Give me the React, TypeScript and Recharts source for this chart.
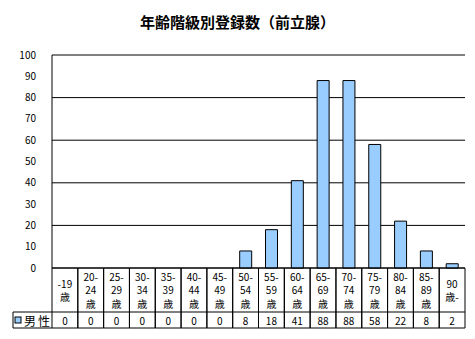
import React from 'react';
import { BarChart, Bar, XAxis, YAxis, CartesianGrid } from 'recharts';

// 年齢階級（表の各行）
const AGE_LINES = [
  ['-19', '歳'],
  ['20-', '24', '歳'],
  ['25-', '29', '歳'],
  ['30-', '34', '歳'],
  ['35-', '39', '歳'],
  ['40-', '44', '歳'],
  ['45-', '49', '歳'],
  ['50-', '54', '歳'],
  ['55-', '59', '歳'],
  ['60-', '64', '歳'],
  ['65-', '69', '歳'],
  ['70-', '74', '歳'],
  ['75-', '79', '歳'],
  ['80-', '84', '歳'],
  ['85-', '89', '歳'],
  ['90', '歳-'],
];
const MALE = [0, 0, 0, 0, 0, 0, 0, 8, 18, 41, 88, 88, 58, 22, 8, 2];
const Y_TICKS = [0, 10, 20, 30, 40, 50, 60, 70, 80, 90, 100];

const data = AGE_LINES.map((l, i) => ({ name: l.join(''), value: MALE[i] }));

const W = 475;
const H = 339;
const LEFT = 52;
const RIGHT = 10;
const TOP = 55;
const BOTTOM = 71;
const COL = (W - LEFT - RIGHT) / AGE_LINES.length;
const FONT = '"Noto Sans CJK JP", "DejaVu Sans", sans-serif';

const TableTick = (props: any) => {
  const { x, index } = props;
  const y0 = H - BOTTOM;
  const y1 = y0 + 44;
  const y2 = y1 + 16;
  const xl = x - COL / 2;
  const xr = x + COL / 2;
  const lines = AGE_LINES[index] || [];
  const start = lines.length === 3 ? y0 + 8 : y0 + 15;
  return (
    <g fontFamily={FONT} fontSize={10}>
      <line x1={xl} y1={y0} x2={xl} y2={y2} stroke="#000" />
      <line x1={xr} y1={y0} x2={xr} y2={y2} stroke="#000" />
      <line x1={xl} y1={y1} x2={xr} y2={y1} stroke="#000" />
      <line x1={xl} y1={y2} x2={xr} y2={y2} stroke="#000" />
      {lines.map((t, k) => (
        <text key={k} x={x} y={start + k * 13.5} textAnchor="middle" dominantBaseline="central" fill="#000">
          {t}
        </text>
      ))}
      <text x={x} y={(y1 + y2) / 2} textAnchor="middle" dominantBaseline="central" fill="#000">
        {MALE[index]}
      </text>
      {index === 0 && (
        <g>
          <line x1={13} y1={y1} x2={xl} y2={y1} stroke="#000" />
          <line x1={13} y1={y2} x2={xl} y2={y2} stroke="#000" />
          <line x1={13} y1={y1} x2={13} y2={y2} stroke="#000" />
          <rect x={15} y={y1 + 5} width={6} height={6} fill="#99CCFF" stroke="#000" />
          <text x={24} y={(y1 + y2) / 2} dominantBaseline="central" fontSize={12} letterSpacing={2} fill="#000">
            男性
          </text>
        </g>
      )}
    </g>
  );
};

export default function App() {
  return (
    <div style={{ position: 'fixed', left: 0, top: 0, width: W, height: H, background: '#fff' }}>
      <div
        style={{
          position: 'absolute',
          top: 11,
          width: W,
          textAlign: 'center',
          fontFamily: FONT,
          fontWeight: 'bold',
          fontSize: 15,
          lineHeight: '22px',
        }}
      >
        年齢階級別登録数（前立腺）
      </div>
      <BarChart
        width={W}
        height={H}
        data={data}
        margin={{ top: TOP, right: RIGHT, bottom: 0, left: 0 }}
        barCategoryGap="50%"
      >
        <CartesianGrid vertical={false} stroke="#000" strokeWidth={1} />
        <XAxis
          dataKey="name"
          height={BOTTOM}
          axisLine={{ stroke: '#000' }}
          tickLine={false}
          interval={0}
          tick={<TableTick />}
        />
        <XAxis xAxisId="top" orientation="top" dataKey="name" height={0} tick={false} tickLine={false} axisLine={{ stroke: '#808080' }} />
        <YAxis
          domain={[0, 100]}
          ticks={Y_TICKS}
          width={LEFT}
          axisLine={{ stroke: '#000' }}
          tickLine={false}
          tickMargin={10}
          tick={{ fill: '#000', fontSize: 10, fontFamily: FONT }}
        />
        <YAxis yAxisId="right" orientation="right" width={0} tick={false} tickLine={false} axisLine={{ stroke: '#808080' }} />
        <Bar dataKey="value" fill="#99CCFF" stroke="#000" strokeWidth={1} barSize={12} isAnimationActive={false} />
      </BarChart>
    </div>
  );
}
